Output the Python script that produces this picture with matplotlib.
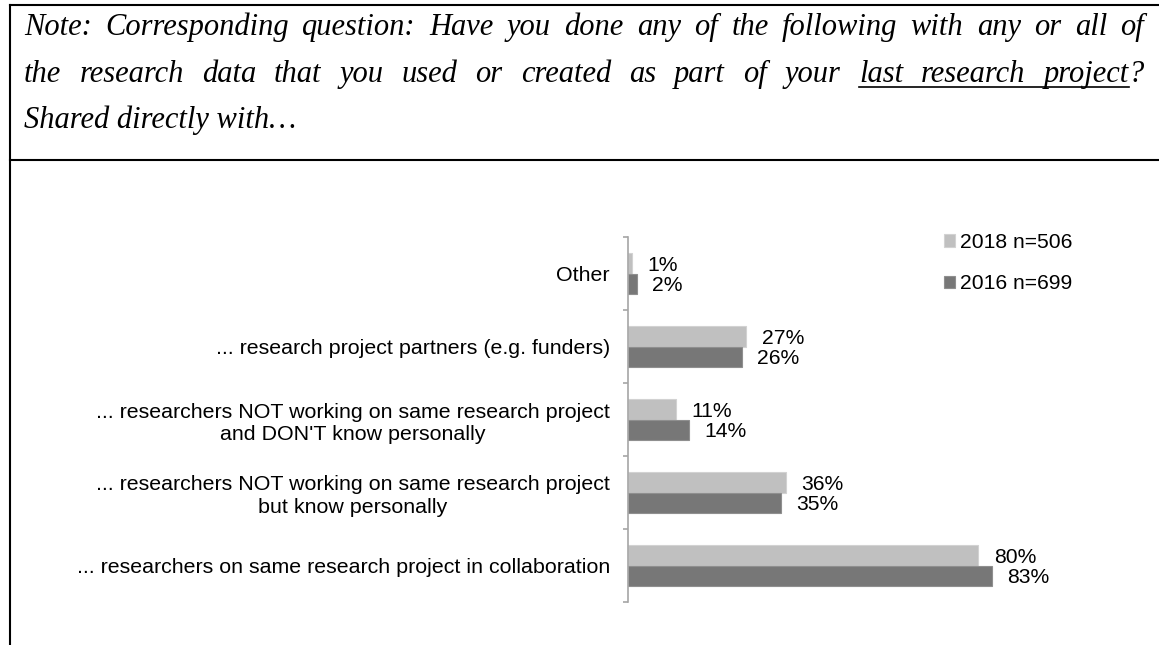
import numpy as np
import matplotlib
matplotlib.use('Agg')
import matplotlib.pyplot as plt
from matplotlib.lines import Line2D

plt.rcParams['font.family'] = ['Liberation Sans', 'DejaVu Sans']

# categories from bottom to top
categorias = ["... researchers on same research project in collaboration",
              "... researchers NOT working on same research project\nbut know personally",
              "... researchers NOT working on same research project\nand DON'T know personally",
              "... research project partners (e.g. funders)",
              "Other"]
v2018 = [80, 36, 11, 27, 1]
v2016 = [83, 35, 14, 26, 2]
serie2018 = "2018 n=506"
serie2016 = "2016 n=699"

W, H = 1159, 645
fig = plt.figure(figsize=(W/100, H/100), dpi=100)

# caja de la nota
lw = 1.5
fig.add_artist(Line2D([10/W, 1], [1-5/H, 1-5/H], color='black', lw=lw, transform=fig.transFigure))
fig.add_artist(Line2D([10/W, 1], [1-160/H, 1-160/H], color='black', lw=lw, transform=fig.transFigure))
fig.add_artist(Line2D([10/W, 10/W], [0, 1-5/H], color='black', lw=lw, transform=fig.transFigure))

# texto justificado de la nota
lineas = [
    [("Note:", 0, 0), ("Corresponding", 0, 0), ("question:", 0, 0), ("Have", 0, 0), ("you", 0, 0),
     ("done", 0, 0), ("any", 0, 0), ("of", 0, 0), ("the", 0, 0), ("following", 0, 0), ("with", 0, 0),
     ("any", 0, 0), ("or", 0, 0), ("all", 0, 0), ("of", 0, 0)],
    [("the", 0, 0), ("research", 0, 0), ("data", 0, 0), ("that", 0, 0), ("you", 0, 0), ("used", 0, 0),
     ("or", 0, 0), ("created", 0, 0), ("as", 0, 0), ("part", 0, 0), ("of", 0, 0), ("your", 0, 0),
     ("last", 1, 0), ("research", 1, 0), ("project", 1, 0), ("?", 0, 1)],
    [("Shared directly with\u2026", 0, 0)],
]
justificar = [True, True, False]
bases = [35, 82, 128]
x0, x1 = 24, 1144
fnota = dict(family=['Liberation Serif', 'DejaVu Serif'], style='italic', size=22)

renderer = fig.canvas.get_renderer()
for palabras, just, yb in zip(lineas, justificar, bases):
    textos, anchos = [], []
    for p, _, _ in palabras:
        t = fig.text(0, 1-yb/H, p, va='baseline', ha='left', transform=fig.transFigure, **fnota)
        textos.append(t)
        anchos.append(t.get_window_extent(renderer).width)
    grupos = []
    for i, (p, u, pegado) in enumerate(palabras):
        if pegado and grupos:
            grupos[-1].append(i)
        else:
            grupos.append([i])
    total = sum(anchos)
    if just and len(grupos) > 1:
        hueco = (x1 - x0 - total) / (len(grupos) - 1)
    else:
        hueco = 0
    x = x0
    subr = []
    for g in grupos:
        for i in g:
            textos[i].set_x(x/W)
            if palabras[i][1]:
                subr.append((x, x + anchos[i]))
            x += anchos[i]
        x += hueco
    if subr:
        ya = 1-(yb+5)/H
        fig.add_artist(Line2D([subr[0][0]/W, subr[-1][1]/W], [ya, ya], color='black', lw=1.2,
                              transform=fig.transFigure))

# grafico de barras
ax = fig.add_axes([628/W, 43/H, 438/W, 365/H])
y = np.arange(len(categorias))
h = 0.275
b1 = ax.barh(y + h/2, v2018, height=h, color='#c0c0c0', edgecolor='#d2d2d2', lw=0.8, label=serie2018)
b2 = ax.barh(y - h/2, v2016, height=h, color='#777777', edgecolor='#8f8f8f', lw=0.8, label=serie2016)

for barras, vals in [(b1, v2018), (b2, v2016)]:
    for r, v in zip(barras, vals):
        ax.annotate(f"{v}%", (v, r.get_y() + r.get_height()/2), xytext=(11, -1.5),
                    textcoords='offset points', ha='left', va='center', fontsize=15.2)

ax.set_xlim(0, 100)
ax.set_ylim(-0.5, len(categorias) - 0.5)
ax.set_yticks(y)
ax.set_yticklabels(categorias, fontsize=15.4, ha='right', multialignment='center', linespacing=1.25)
ax.set_yticks(np.arange(-0.5, len(categorias)), minor=True)
ax.tick_params(axis='y', which='major', length=0, pad=13)
ax.tick_params(axis='y', which='minor', length=3.6, width=1.2, color='#a6a6a6', direction='out')
ax.set_xticks([])
for s in ['top', 'right', 'bottom']:
    ax.spines[s].set_visible(False)
ax.spines['left'].set_color('#a6a6a6')
ax.spines['left'].set_linewidth(1.2)

fig.legend(handles=[b1, b2], labels=[serie2018, serie2016], loc='upper left',
           bbox_to_anchor=(944/W, 1-233/H), frameon=False, fontsize=15.2,
           handlelength=0.5, handleheight=0.5, handletextpad=0.25, labelspacing=1.05,
           borderpad=0, borderaxespad=0)

fig.savefig('out.png', dpi=100)
